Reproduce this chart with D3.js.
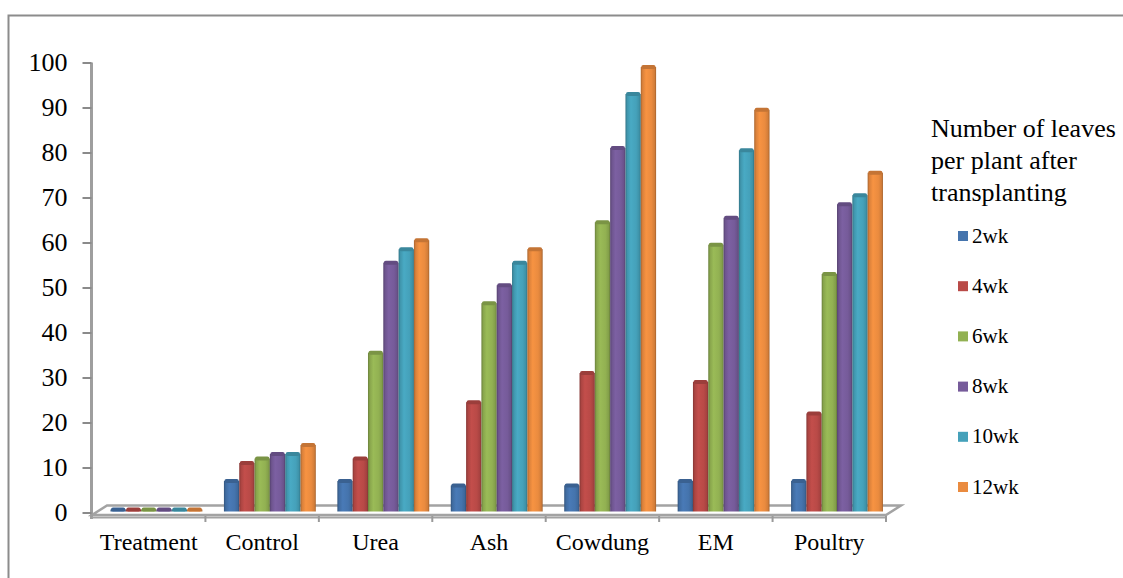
<!DOCTYPE html>
<html>
<head>
<meta charset="utf-8">
<script src="https://cdn.jsdelivr.net/npm/d3@7"></script>
<style>
  html, body { margin: 0; padding: 0; background: #fff; }
  svg text { font-family: "Liberation Serif", "Times New Roman", Tinos, "DejaVu Serif", serif; fill: #000; }
</style>
</head>
<body>
<svg id="chart" width="1123" height="578"></svg>
<script>
// Treatments on the x axis
const categories = ["Treatment", "Control", "Urea", "Ash", "Cowdung", "EM", "Poultry"];
// Weeks after transplanting (one bar per week inside each treatment)
const seriesNames = ["2wk", "4wk", "6wk", "8wk", "10wk", "12wk"];
// Mean number of leaves per plant, one array per week, in category order
const wk2  = [0, 7, 7, 6, 6, 7, 7];
const wk4  = [0, 11, 12, 24.5, 31, 29, 22];
const wk6  = [0, 12, 35.5, 46.5, 64.5, 59.5, 53];
const wk8  = [0, 13, 55.5, 50.5, 81, 65.5, 68.5];
const wk10 = [0, 13, 58.5, 55.5, 93, 80.5, 70.5];
const wk12 = [0, 15, 60.5, 58.5, 99, 89.5, 75.5];
const yTicks = [0, 10, 20, 30, 40, 50, 60, 70, 80, 90, 100];
const legendTitle = ["Number of leaves", "per plant after", "transplanting"];
const colors = ["#4574ad", "#b94a47", "#92b152", "#765b9a", "#45a1ba", "#ea8b3f"];

const seriesValues = [wk2, wk4, wk6, wk8, wk10, wk12];
const FONT = "'Liberation Serif', 'Times New Roman', Tinos, 'DejaVu Serif', serif";

const svg = d3.select("#chart");

// outer frame of the chart area
svg.append("rect")
  .attr("x", 8.5).attr("y", 15.5)
  .attr("width", 1140).attr("height", 600)
  .attr("fill", "#fff").attr("stroke", "#8c8c8c").attr("stroke-width", 2);

const x0 = d3.scaleBand().domain(categories).range([92, 886]);
const x1 = d3.scaleBand().domain(seriesNames)
  .range([18.5, 18.5 + x0.bandwidth() * 0.81]);
const y = d3.scaleLinear().domain([0, 100]).range([512.5, 62.5]);

// cylinder-like horizontal shading for each series
const defs = svg.append("defs");
colors.forEach((c, i) => {
  const base = d3.color(c);
  const g = defs.append("linearGradient").attr("id", "grad" + i)
    .attr("x1", "0%").attr("x2", "100%").attr("y1", "0%").attr("y2", "0%");
  g.append("stop").attr("offset", "0%").attr("stop-color", base.darker(0.9));
  g.append("stop").attr("offset", "12%").attr("stop-color", base.darker(0.2));
  g.append("stop").attr("offset", "35%").attr("stop-color", base.brighter(0.15));
  g.append("stop").attr("offset", "70%").attr("stop-color", base);
  g.append("stop").attr("offset", "90%").attr("stop-color", base.darker(0.3));
  g.append("stop").attr("offset", "100%").attr("stop-color", base.darker(1.0));
});

// 3D floor
const floorFront = 515, floorBack = 505.5, depth = 15;
const xl = x0.range()[0], xr = x0.range()[1];
svg.append("path")
  .attr("d", `M${xl},${floorFront} L${xr},${floorFront} L${xr + depth},${floorBack} L${xl + depth},${floorBack} Z`)
  .attr("fill", "#fff").attr("stroke", "#a3a3a3").attr("stroke-width", 2.5)
  .attr("stroke-linejoin", "miter");

// y axis (wall edge)
const yAxis = d3.axisLeft(y).tickValues(yTicks).tickSize(9).tickPadding(15)
  .tickFormat(d3.format("d"));
const gy = svg.append("g").attr("transform", "translate(91.5,0)").call(yAxis);
gy.attr("font-family", null);
gy.select(".domain").attr("d", `M0,${y(100)}V${floorFront + 4}`)
  .attr("stroke", "#9e9e9e").attr("stroke-width", 3);
gy.selectAll(".tick line").attr("stroke", "#8a8a8a").attr("stroke-width", 2);
gy.selectAll(".tick text")
  .style("font-family", FONT)
  .style("font-size", "26px").attr("fill", "#000");

// x axis along the floor front
const xAxis = d3.axisBottom(x0).tickSize(0).tickPadding(16);
const gx = svg.append("g").attr("transform", `translate(0,${floorFront + 2})`).call(xAxis);
gx.attr("font-family", null);
gx.select(".domain").attr("stroke", "#a3a3a3").attr("stroke-width", 2);
gx.selectAll(".tick text")
  .style("font-family", FONT)
  .style("font-size", "24px").attr("fill", "#000");
// category separators
svg.append("g").selectAll("line")
  .data(categories.slice(1).concat(["end"]))
  .join("line")
  .attr("x1", (d, i) => xl + (i + 1) * x0.bandwidth())
  .attr("x2", (d, i) => xl + (i + 1) * x0.bandwidth())
  .attr("y1", floorFront + 1).attr("y2", floorFront + 7)
  .attr("stroke", "#9a9a9a").attr("stroke-width", 2);

// bars
const baseY = 511.5;
const groups = svg.append("g").selectAll("g")
  .data(categories)
  .join("g")
  .attr("transform", d => `translate(${x0(d)},0)`);

groups.each(function (cat, ci) {
  const g = d3.select(this);
  seriesNames.forEach((s, si) => {
    const v = seriesValues[si][ci];
    const top = Math.min(y(v), baseY - 2);
    const bx = x1(s), bw = x1.bandwidth();
    g.append("rect")
      .attr("x", bx).attr("y", top)
      .attr("width", bw).attr("height", baseY - top)
      .attr("fill", `url(#grad${si})`);
    // rounded top cap of the column
    g.append("rect")
      .attr("x", bx + 0.5).attr("y", top - 2)
      .attr("width", bw - 1).attr("height", 4)
      .attr("rx", 2).attr("ry", 2)
      .attr("fill", d3.color(colors[si]).darker(0.5));
  });
});

// legend
const legend = svg.append("g");
legendTitle.forEach((t, i) => {
  legend.append("text")
    .attr("x", 931).attr("y", 137 + i * 32)
    .style("font-family", FONT)
    .style("font-size", "26px").text(t);
});
seriesNames.forEach((s, i) => {
  const cy = 236 + i * 50.2;
  legend.append("rect")
    .attr("x", 958).attr("y", cy - 5)
    .attr("width", 10).attr("height", 10)
    .attr("fill", colors[i]);
  legend.append("text")
    .attr("x", 972).attr("y", cy + 6.5)
    .style("font-family", FONT)
    .style("font-size", "21px").text(s);
});
</script>
</body>
</html>
